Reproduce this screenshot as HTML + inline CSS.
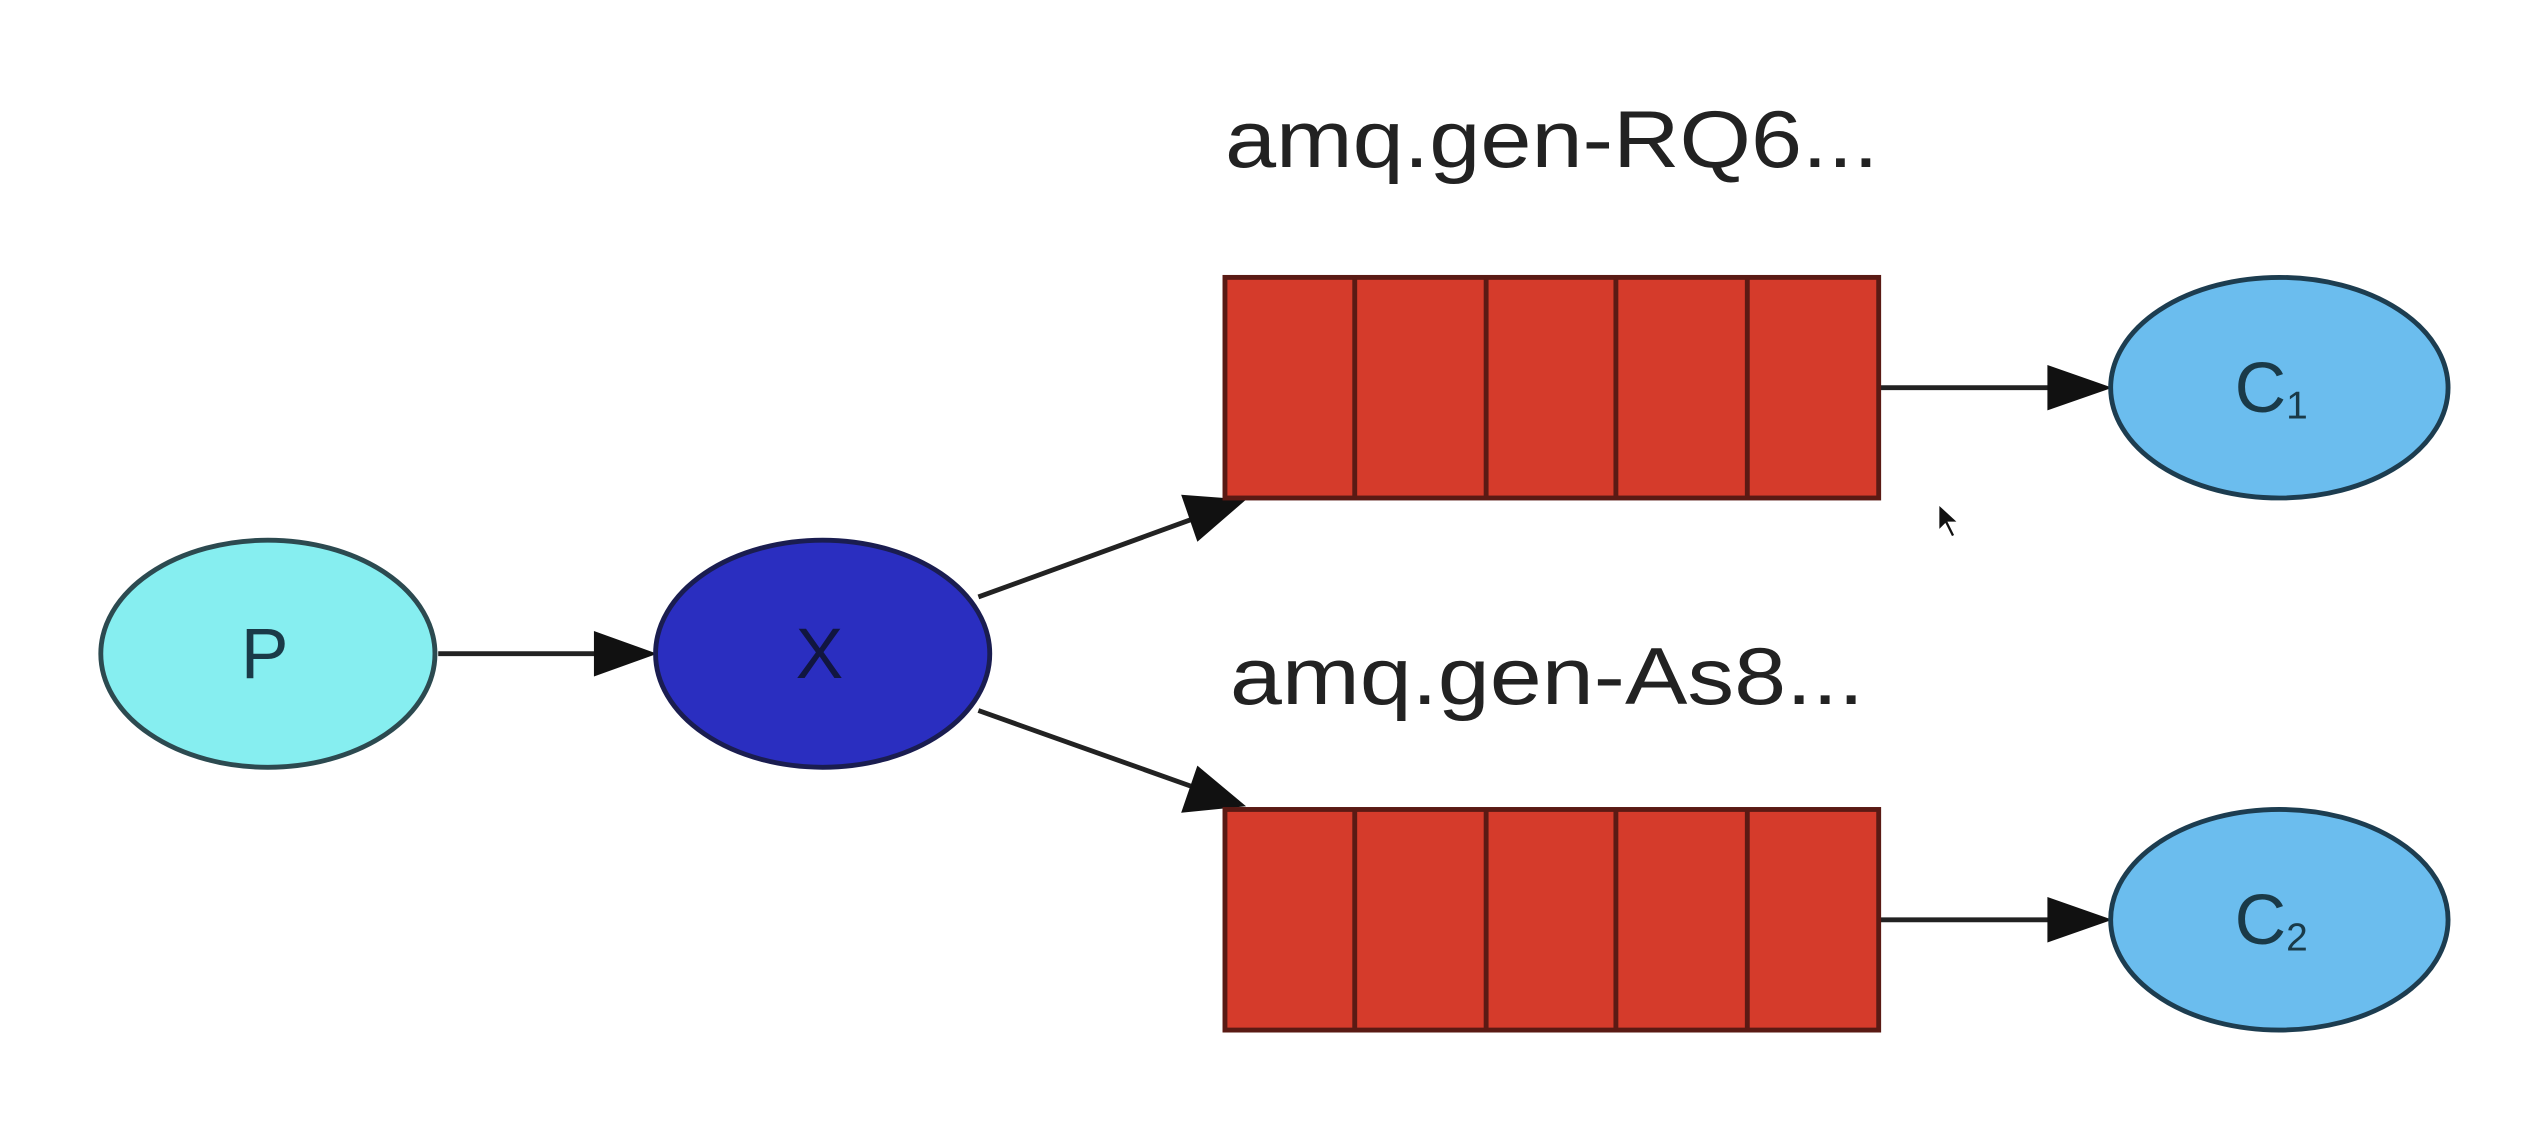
<!DOCTYPE html>
<html><head><meta charset="utf-8"><style>
html,body{margin:0;padding:0;background:#fff;}
svg{display:block;}
</style></head><body>
<svg width="2544" height="1142" viewBox="0 0 1568 704" xmlns="http://www.w3.org/2000/svg">
<rect width="1568" height="704" fill="#fff"/>
<g font-family="Liberation Sans, sans-serif">
<text x="755" y="103" font-size="50" fill="#222" textLength="403" lengthAdjust="spacingAndGlyphs">amq.gen-RQ6...</text>
<text x="758" y="434" font-size="50" fill="#222" textLength="391" lengthAdjust="spacingAndGlyphs">amq.gen-As8...</text>
</g>
<g stroke="#222" stroke-width="3" fill="none">
<line x1="270" y1="403" x2="370" y2="403"/>
<line x1="603" y1="368" x2="735" y2="320"/>
<line x1="603" y1="438" x2="735" y2="485"/>
<line x1="1158" y1="239" x2="1265" y2="239"/>
<line x1="1158" y1="567" x2="1265" y2="567"/>
</g>
<g fill="#111">
<polygon points="366,389 405,403 366,417"/>
<polygon points="728,305 768,308 738,334"/>
<polygon points="738,472 768,497 728,501"/>
<polygon points="1262,225 1302,239 1262,253"/>
<polygon points="1262,553 1302,567 1262,581"/>
</g>
<ellipse cx="165" cy="403" rx="103" ry="70" fill="#86eef0" stroke="#2c4a50" stroke-width="3"/>
<ellipse cx="507" cy="403" rx="103" ry="70" fill="#2a2ec0" stroke="#1a1d50" stroke-width="3"/>
<ellipse cx="1405" cy="239" rx="104" ry="68" fill="#6bbdee" stroke="#1d3d50" stroke-width="3"/>
<ellipse cx="1405" cy="567" rx="104" ry="68" fill="#6bbdee" stroke="#1d3d50" stroke-width="3"/>
<g font-family="Liberation Sans, sans-serif" font-size="44" fill="#1a3a48" text-anchor="middle">
<text x="163" y="418">P</text>
<text x="505" y="418" fill="#111640">X</text>
<text x="1400" y="254">C<tspan font-size="24" dy="4">1</tspan></text>
<text x="1400" y="582">C<tspan font-size="24" dy="4">2</tspan></text>
</g>
<g stroke="#5a1a14" stroke-width="3" fill="#d53b2b">
<rect x="755" y="171" width="403" height="136"/>
<line x1="835" y1="171" x2="835" y2="307"/>
<line x1="916" y1="171" x2="916" y2="307"/>
<line x1="996" y1="171" x2="996" y2="307"/>
<line x1="1077" y1="171" x2="1077" y2="307"/>
<rect x="755" y="499" width="403" height="136"/>
<line x1="835" y1="499" x2="835" y2="635"/>
<line x1="916" y1="499" x2="916" y2="635"/>
<line x1="996" y1="499" x2="996" y2="635"/>
<line x1="1077" y1="499" x2="1077" y2="635"/>
</g>
<polygon points="1195,311 1195,327 1199,323 1203,331 1205,330 1201,322 1207,322" fill="#111" stroke="#fff" stroke-width="0.8"/>
</svg>
</body></html>
